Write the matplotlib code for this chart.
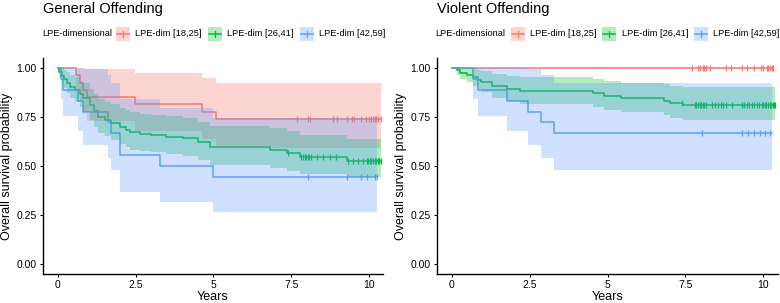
import matplotlib
matplotlib.use("Agg")
import matplotlib.pyplot as plt
from matplotlib.patches import Rectangle
from matplotlib.lines import Line2D
import numpy as np

plt.rcParams['font.family'] = ['Liberation Sans', 'DejaVu Sans']

# ---------------- data ----------------
group_labels = ["LPE-dim [18,25]", "LPE-dim [26,41]", "LPE-dim [42,59]"]
legend_title = "LPE-dimensional"
panel_titles = ["General Offending", "Violent Offending"]
x_ticks = [0, 2.5, 5, 7.5, 10]
x_tick_labels = ["0", "2.5", "5", "7.5", "10"]
y_ticks = [0.00, 0.25, 0.50, 0.75, 1.00]
y_tick_labels = ["0.00", "0.25", "0.50", "0.75", "1.00"]
colors = ["#F8766D", "#00BA38", "#619CFF"]

# General offending
gen_red_t = [0, 0.58, 0.70, 0.80, 0.92, 2.48, 4.63, 5.08, 10.37]
gen_red_s = [1, 0.963, 0.926, 0.889, 0.852, 0.815, 0.778, 0.741, 0.741]
gen_red_hi = [1, 1, 1, 1, 0.997, 0.976, 0.951, 0.926, 0.926]
gen_red_lo = [1, 0.894, 0.832, 0.778, 0.728, 0.681, 0.636, 0.593, 0.593]
gen_red_cens = [7.70, 8.05, 8.10, 8.83, 8.98, 9.28, 9.44, 9.53, 9.73, 9.90,
                10.01, 10.08, 10.13, 10.18, 10.24, 10.30, 10.37]

gen_green_t = [0, 0.05, 0.12, 0.20, 0.30, 0.39, 0.55, 0.70, 0.81, 1.03, 1.15,
               1.30, 1.50, 1.72, 2.00, 2.20, 2.32, 2.64, 3.00, 3.49, 4.03, 4.50,
               4.90, 6.82, 7.37, 7.78, 9.28, 10.38]
gen_green_s = [1, 0.98, 0.96, 0.945, 0.925, 0.905, 0.89, 0.865, 0.845, 0.81, 0.78,
               0.75, 0.735, 0.72, 0.70, 0.685, 0.672, 0.665, 0.658, 0.65, 0.641, 0.62,
               0.597, 0.582, 0.568, 0.547, 0.527, 0.527]
gen_green_hi = [1, 1, 1, 0.992, 0.979, 0.966, 0.955, 0.936, 0.921, 0.893, 0.868,
                0.842, 0.828, 0.816, 0.798, 0.785, 0.773, 0.767, 0.761, 0.753, 0.745, 0.726,
                0.705, 0.692, 0.680, 0.660, 0.638, 0.638]
gen_green_lo = [1, 0.952, 0.921, 0.90, 0.874, 0.848, 0.829, 0.799, 0.775, 0.735, 0.701,
                0.668, 0.652, 0.635, 0.614, 0.598, 0.584, 0.577, 0.569, 0.561, 0.552, 0.53,
                0.506, 0.49, 0.477, 0.458, 0.442, 0.442]
gen_green_cens = [7.41, 7.83, 7.88, 7.93, 7.98, 8.03, 8.08, 8.13, 8.32, 8.53, 8.75,
                  8.93, 9.33, 9.49, 9.66, 9.82, 9.92, 9.98, 10.03, 10.08, 10.13,
                  10.18, 10.23, 10.28, 10.33, 10.38]

gen_blue_t = [0, 0.09, 0.17, 0.65, 0.81, 1.62, 1.72, 2.00, 3.28, 4.99, 10.25]
gen_blue_s = [1, 0.944, 0.889, 0.833, 0.778, 0.722, 0.667, 0.556, 0.50, 0.444, 0.444]
gen_blue_hi = [1, 1, 1, 1, 0.996, 0.962, 0.924, 0.840, 0.794, 0.745, 0.745]
gen_blue_lo = [1, 0.844, 0.755, 0.678, 0.608, 0.542, 0.481, 0.368, 0.315, 0.265, 0.265]
gen_blue_cens = [8.05, 9.30, 9.74, 9.93, 10.19, 10.25]

# Violent offending
vio_red_t = [0, 10.33]
vio_red_s = [1, 1]
vio_red_hi = [1, 1]
vio_red_lo = [1, 1]
vio_red_cens = [7.71, 7.92, 7.97, 8.06, 8.10, 8.17, 8.30, 8.82, 8.98, 9.31, 9.47,
                9.72, 9.94, 10.01, 10.12, 10.17, 10.23, 10.28, 10.33]

vio_green_t = [0, 0.15, 0.26, 0.47, 0.69, 0.85, 0.95, 1.30, 1.78, 2.19, 4.54, 4.90,
               5.43, 6.80, 7.01, 7.44, 10.39]
vio_green_s = [1, 0.988, 0.977, 0.965, 0.953, 0.941, 0.929, 0.906, 0.894, 0.882, 0.870,
               0.858, 0.846, 0.834, 0.823, 0.813, 0.813]
vio_green_hi = [1, 1, 1, 1, 0.999, 0.992, 0.985, 0.970, 0.961, 0.953, 0.944, 0.935,
                0.926, 0.917, 0.909, 0.901, 0.901]
vio_green_lo = [1, 0.965, 0.945, 0.927, 0.909, 0.892, 0.876, 0.846, 0.831, 0.816, 0.802,
                0.788, 0.773, 0.759, 0.746, 0.734, 0.734]
vio_green_cens = [7.39, 7.81, 7.86, 7.91, 7.96, 8.01, 8.06, 8.11, 8.17, 8.35, 8.46,
                  8.56, 8.64, 8.72, 8.81, 8.99, 9.31, 9.39, 9.47, 9.56, 9.64, 9.71,
                  9.80, 9.88, 9.96, 10.01, 10.06, 10.11, 10.16, 10.21, 10.26, 10.31,
                  10.36, 10.39]

vio_blue_t = [0, 0.69, 0.85, 1.76, 2.45, 2.86, 3.28, 10.30]
vio_blue_s = [1, 0.944, 0.889, 0.833, 0.778, 0.722, 0.667, 0.667]
vio_blue_hi = [1, 1, 1, 1, 0.996, 0.962, 0.924, 0.924]
vio_blue_lo = [1, 0.844, 0.755, 0.678, 0.608, 0.542, 0.481, 0.481]
vio_blue_cens = [8.03, 9.31, 9.53, 9.71, 9.90, 10.06, 10.23]

panels = [
    [(gen_red_t, gen_red_s, gen_red_lo, gen_red_hi, gen_red_cens),
     (gen_green_t, gen_green_s, gen_green_lo, gen_green_hi, gen_green_cens),
     (gen_blue_t, gen_blue_s, gen_blue_lo, gen_blue_hi, gen_blue_cens)],
    [(vio_red_t, vio_red_s, vio_red_lo, vio_red_hi, vio_red_cens),
     (vio_green_t, vio_green_s, vio_green_lo, vio_green_hi, vio_green_cens),
     (vio_blue_t, vio_blue_s, vio_blue_lo, vio_blue_hi, vio_blue_cens)],
]

# ---------------- figure ----------------
W, H = 780, 303
fig = plt.figure(figsize=(W / 100, H / 100), dpi=100)

def fx(px):
    return px / W

def fy(py):
    return 1 - py / H

axes_px = [(43, 383), (437, 778)]
top_px, bot_px = 58, 274
xlims = [(-0.48, 10.45), (-0.48, 10.48)]

legend_title_x = [42, 435]
key_x = [[116, 208, 300], [511, 602, 694]]
label_x = [[135, 227, 319], [530, 622, 713]]
key_y = 33.7
key_w = 14

for p, (x0, x1) in enumerate(axes_px):
    ax = fig.add_axes([fx(x0), fy(bot_px), (x1 - x0) / W, (bot_px - top_px) / H])
    for ci, (t, s, lo, hi, cens) in enumerate(panels[p]):
        t = np.asarray(t, float)
        s = np.asarray(s, float)
        ax.step(t, s, where='post', color=colors[ci], lw=1.1, zorder=2)
        ax.fill_between(t, lo, hi, step='post', color=colors[ci], alpha=0.3,
                        lw=0, zorder=3)
        cens = np.asarray(cens, float)
        idx = np.searchsorted(t, cens, side='right') - 1
        ax.plot(cens, s[idx], ls='none', marker='|', ms=5, mew=0.9,
                color=colors[ci], zorder=2)
    ax.set_xlim(*xlims[p])
    ax.set_ylim(-0.051, 1.051)
    ax.set_xticks(x_ticks)
    ax.set_xticklabels(x_tick_labels)
    ax.set_yticks(y_ticks)
    ax.set_yticklabels(y_tick_labels)
    ax.tick_params(axis='both', labelsize=7.5, length=2.5, width=0.8,
                   colors='black', pad=2)
    for side in ['top', 'right']:
        ax.spines[side].set_visible(False)
    for side in ['left', 'bottom']:
        ax.spines[side].set_linewidth(1.0)
    ax.set_xlabel("Years", fontsize=9, va='center')
    ax.xaxis.set_label_coords(0.5, -0.106)
    ax.set_ylabel("Overall survival probability", fontsize=9, va='center')
    ax.yaxis.set_label_coords(-0.106, 0.5)

    # title
    fig.text(fx(x0), fy(2), panel_titles[p], fontsize=10.5, ha='left', va='top')

    # legend
    fig.text(fx(legend_title_x[p]), fy(key_y), legend_title, fontsize=6.7,
             ha='left', va='center')
    for ci in range(3):
        kx = key_x[p][ci]
        fig.add_artist(Rectangle((fx(kx), fy(key_y + key_w / 2)), key_w / W, key_w / H,
                                 transform=fig.transFigure, facecolor=colors[ci],
                                 alpha=0.3, lw=0))
        fig.add_artist(Line2D([fx(kx + 1), fx(kx + key_w - 1)], [fy(key_y), fy(key_y)],
                              transform=fig.transFigure, color=colors[ci], lw=1.1))
        fig.add_artist(Line2D([fx(kx + key_w / 2), fx(kx + key_w / 2)],
                              [fy(key_y - 3), fy(key_y + 3)],
                              transform=fig.transFigure, color=colors[ci], lw=0.9))
        fig.text(fx(label_x[p][ci]), fy(key_y), group_labels[ci], fontsize=6.7,
                 ha='left', va='center')

fig.savefig("out.png", dpi=100)
